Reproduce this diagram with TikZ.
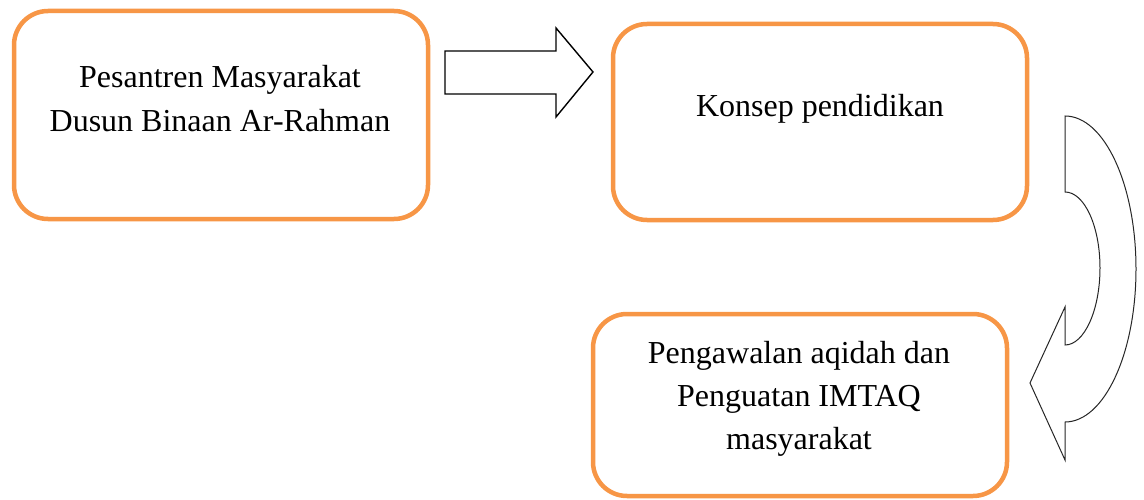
\documentclass[tikz,border=0pt]{standalone}
\usepackage{fontspec}
\setmainfont{Liberation Serif}
\begin{document}
\begin{tikzpicture}[x=1pt,y=-1pt,
  obox/.style={draw=boxorange,line width=4.5pt,rounded corners=34pt,fill=white,inner sep=0pt},
  otext/.style={align=center,anchor=base,inner sep=0pt,font=\fontsize{32}{44}\selectfont},
  blockarrow/.style={draw=black,fill=white,line width=1.4pt,line join=miter},
  curvarrow/.style={draw=black!85,fill=white,line width=1pt}]
\definecolor{boxorange}{HTML}{F79646}
\useasboundingbox (0,0) rectangle (1144,500);
% boxes
\node[obox,minimum width=414pt,minimum height=208pt] (b1) at (221,115) {};
\node[obox,minimum width=414pt,minimum height=196pt] (b2) at (820,122) {};
\node[obox,minimum width=414pt,minimum height=182pt] (b3) at (800,405) {};
% texts (base anchor = baseline of the last line)
\node[otext] (t1) at (220,132) {Pesantren Masyarakat\\Dusun Binaan Ar-Rahman};
\node[otext] (t2) at (820,117) {Konsep pendidikan};
\node[otext,font=\fontsize{32}{43}\selectfont] (t3) at (799,449) {Pengawalan aqidah dan\\Penguatan IMTAQ\\masyarakat};
% straight block arrow
\draw[blockarrow] (445,51) -- (556,51) -- (556,28) -- (593,72) -- (556,117) -- (556,94) -- (445,94) -- cycle;
% curved block arrow
\draw[curvarrow] (1065,116) -- (1065,192)
  .. controls (1084.3,192) and (1100,226) .. (1100,268)
  .. controls (1100,310) and (1084.3,345) .. (1065,345)
  -- (1065,307) -- (1030,383) -- (1065,460) -- (1065,422)
  .. controls (1104.2,422) and (1136,353.5) .. (1136,269)
  .. controls (1136,184.5) and (1104.2,116) .. (1065,116) -- cycle;
\end{tikzpicture}
\end{document}
